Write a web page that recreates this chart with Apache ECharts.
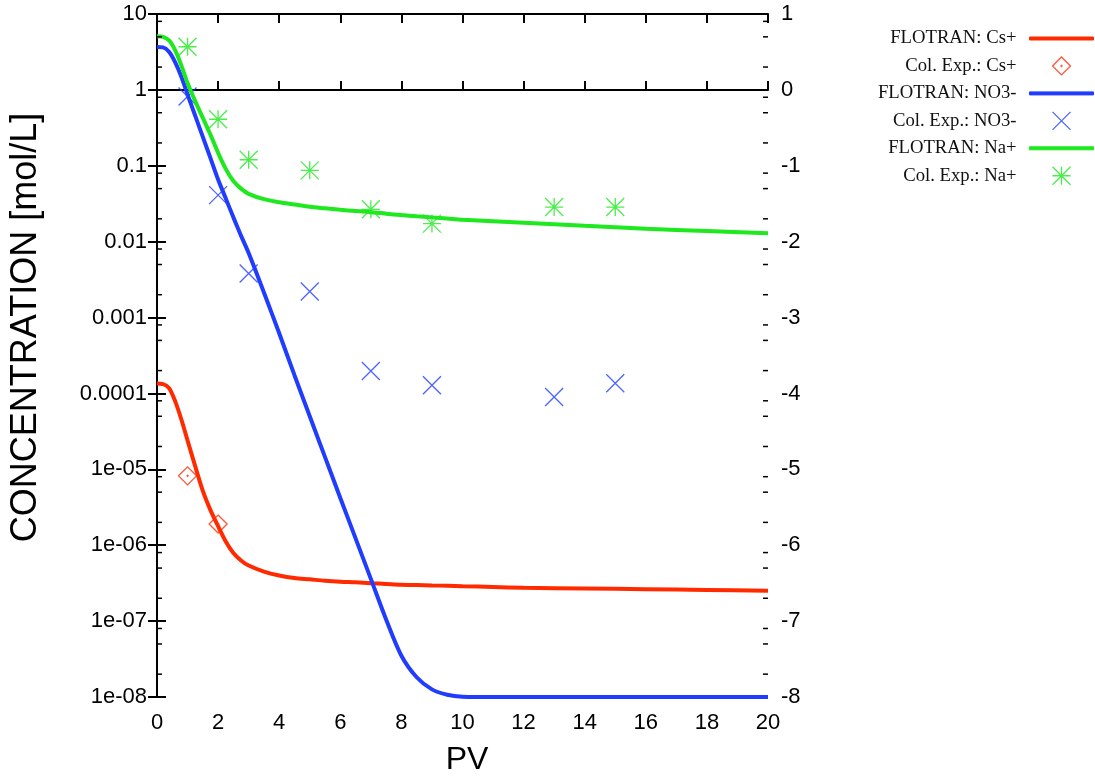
<!DOCTYPE html>
<html><head><meta charset="utf-8">
<script src="https://cdn.jsdelivr.net/npm/echarts@6/dist/echarts.min.js"></script>
<style>html,body{margin:0;padding:0;background:#fff}#c{width:1095px;height:782px}</style>
</head><body><div id="c"></div>
<script>
// ---- data ----
const X_LINE = [0, 0.2, 0.4, 0.6, 0.8, 1.0, 1.25, 1.5, 1.75, 2.0, 2.25, 2.5, 2.75, 3.0, 3.5, 4, 4.5, 5, 5.5, 6, 6.5, 7, 7.5, 8, 8.5, 9, 9.5, 10, 11, 12, 14, 16, 18, 20];
const CS_LINE = [1.35e-4, 1.33e-4, 1.17e-4, 7.8e-5, 4.5e-5, 2.4e-5, 1.1e-5, 5.2e-6, 2.9e-6, 1.78e-6, 1.12e-6, 7.9e-7, 6.3e-7, 5.4e-7, 4.5e-7, 4.0e-7, 3.7e-7, 3.55e-7, 3.4e-7, 3.3e-7, 3.24e-7, 3.16e-7, 3.09e-7, 3.02e-7, 2.99e-7, 2.95e-7, 2.92e-7, 2.88e-7, 2.82e-7, 2.75e-7, 2.69e-7, 2.63e-7, 2.57e-7, 2.51e-7];
const NO3_LINE = [3.67, 3.63, 3.16, 2.29, 1.48, 0.87, 0.457, 0.24, 0.126, 0.066, 0.0372, 0.0209, 0.0120, 0.00708, 0.00214, 6.2e-4, 1.74e-4, 5.0e-5, 1.45e-5, 4.2e-6, 1.23e-6, 3.6e-7, 1.05e-7, 3.5e-8, 1.82e-8, 1.26e-8, 1.07e-8, 1.01e-8, 1.0e-8, 1.0e-8, 1.0e-8, 1.0e-8, 1.0e-8, 1.0e-8];
const NA_LINE = [5.1, 5.0, 4.47, 3.3, 2.09, 1.23, 0.71, 0.427, 0.257, 0.148, 0.091, 0.063, 0.050, 0.0427, 0.0363, 0.0331, 0.0309, 0.0288, 0.0275, 0.0263, 0.0254, 0.0245, 0.0234, 0.0224, 0.0216, 0.0209, 0.0202, 0.0195, 0.0186, 0.0178, 0.0162, 0.0148, 0.0138, 0.0129];

const CS_EXP_X = [1, 2];
const CS_EXP = [8.2e-6, 1.9e-6];
const EXP_X = [1, 2, 3, 5, 7, 9, 13, 15];
const NO3_EXP = [0.82, 0.041, 0.0038, 0.0022, 0.000198, 0.000128, 0.000090, 0.000136];
const NA_EXP = [3.7, 0.41, 0.12, 0.087, 0.0267, 0.0173, 0.0286, 0.0286];

const SERIES_NAMES = ['FLOTRAN: Cs+', 'Col. Exp.: Cs+', 'FLOTRAN: NO3-', 'Col. Exp.: NO3-', 'FLOTRAN: Na+', 'Col. Exp.: Na+'];
const Y_TICK_LABELS = ['1e-08', '1e-07', '1e-06', '1e-05', '0.0001', '0.001', '0.01', '0.1', '1', '10'];
const MINOR_TICKS = [2e-8, 5e-8, 8e-8, 2e-7, 5e-7, 8e-7, 2e-6, 5e-6, 8e-6, 2e-5, 5e-5, 8e-5, 2e-4, 5e-4, 8e-4, 2e-3, 5e-3, 8e-3, 0.02, 0.05, 0.08, 0.2, 0.5, 0.8, 2, 5, 8];

// ---- styles ----
const RED = '#ff2a00', BLUE = '#1f3cff', GREEN = '#1ee81e';
const SANS = 'Liberation Sans';
const DIAMOND = 'path://M0,-10L10,0L0,10L-10,0ZM0,-0.6L0.6,0L0,0.6L-0.6,0Z';
const CROSS = 'path://M-10,-10L10,10M-10,10L10,-10';
const STAR = 'path://M0,-10L0,10M-10,0L10,0M-10,-10L10,10M-10,10L10,-10';
const LINE_ICON = 'path://M0,0L64,0L64,3L0,3Z';

const pairs = (xs, ys) => xs.map((x, i) => [x, ys[i]]);
const lineSeries = (name, ys, color) => ({
  name, type: 'line', data: pairs(X_LINE, ys), symbol: 'none', showSymbol: false,
  smooth: 0.3,
  lineStyle: { color, width: 4 }, itemStyle: { color, borderColor: color }, xAxisIndex: 0, yAxisIndex: 0
});
const scatterSeries = (name, xs, ys, symbol, color, fill) => ({
  name, type: 'scatter', data: pairs(xs, ys), symbol, symbolSize: 18,
  itemStyle: { color: fill, borderColor: color, borderWidth: 1.3 }, xAxisIndex: 0, yAxisIndex: 0
});

const axisCommon = {
  axisLine: { show: true, lineStyle: { color: '#000', width: 2 } },
  axisTick: { show: true, inside: true, length: 9, lineStyle: { color: '#000', width: 2 } },
  splitLine: { show: false }
};

const chart = echarts.init(document.getElementById('c'), null, { renderer: 'canvas' });
chart.setOption({
  animation: false,
  backgroundColor: '#fff',
  grid: { left: 157, right: 327, top: 14, bottom: 85, containLabel: false, outerBoundsMode: 'none' },
  legend: {
    orient: 'vertical', right: 1, top: 29, padding: 0, align: 'right',
    itemWidth: 64, itemHeight: 18, itemGap: 8.3, selectedMode: false,
    data: SERIES_NAMES.map((n, i) => (i % 2 === 0 ? { name: n, icon: LINE_ICON, itemStyle: { borderWidth: 1 } } : { name: n })),
    itemStyle: { borderWidth: 1.3 },
    textStyle: { fontFamily: 'Liberation Serif', fontSize: 18.7, color: '#111', padding: [0, 8, 0, 0] }
  },
  xAxis: [
    Object.assign({
      type: 'value', min: 0, max: 20, interval: 2, position: 'bottom',
      name: 'PV', nameLocation: 'middle', nameGap: 47, nameMoveOverlap: false,
      nameTextStyle: { fontFamily: SANS, fontSize: 32, color: '#000', padding: [0, 0, 0, 9] },
      axisLabel: { fontFamily: SANS, fontSize: 22, color: '#000', margin: 15 }
    }, axisCommon),
    Object.assign({
      type: 'value', min: 0, max: 20, interval: 2, position: 'top',
      axisLabel: { show: false }
    }, axisCommon)
  ],
  yAxis: [
    Object.assign({
      type: 'log', logBase: 10, min: 1e-8, max: 10, splitNumber: 9, position: 'left',
      name: 'CONCENTRATION [mol/L]', nameLocation: 'middle', nameRotate: 90, nameGap: 113, nameMoveOverlap: false,
      nameTextStyle: { fontFamily: SANS, fontSize: 36, color: '#000', padding: [0, 0, 0, 56] },
      axisLabel: {
        fontFamily: SANS, fontSize: 22, color: '#000', margin: 10,
        formatter: v => Y_TICK_LABELS[Math.round(Math.log10(v)) + 8]
      }
    }, axisCommon),
    Object.assign({
      type: 'value', min: -8, max: 1, interval: 1, position: 'right',
      axisLabel: { fontFamily: SANS, fontSize: 22, color: '#000', margin: 13 }
    }, axisCommon)
  ],
  series: [
    lineSeries(SERIES_NAMES[0], CS_LINE, RED),
    scatterSeries(SERIES_NAMES[1], CS_EXP_X, CS_EXP, DIAMOND, RED, 'rgba(255,255,255,0)'),
    lineSeries(SERIES_NAMES[2], NO3_LINE, BLUE),
    scatterSeries(SERIES_NAMES[3], EXP_X, NO3_EXP, CROSS, BLUE, BLUE),
    lineSeries(SERIES_NAMES[4], NA_LINE, GREEN),
    scatterSeries(SERIES_NAMES[5], EXP_X, NA_EXP, STAR, GREEN, GREEN),
    {
      type: 'custom', name: 'minorTicks', silent: true, clip: false, z: 5,
      xAxisIndex: 0, yAxisIndex: 0,
      data: MINOR_TICKS.map(v => [0, v]),
      renderItem: (params, api) => {
        const cs = params.coordSys;
        const y = api.coord([api.value(0), api.value(1)])[1];
        const st = { stroke: '#000', lineWidth: 1.5 };
        return {
          type: 'group', children: [
            { type: 'line', shape: { x1: cs.x, y1: y, x2: cs.x + 5, y2: y }, style: st },
            { type: 'line', shape: { x1: cs.x + cs.width - 5, y1: y, x2: cs.x + cs.width, y2: y }, style: st }
          ]
        };
      }
    }
  ]
});
</script></body></html>
